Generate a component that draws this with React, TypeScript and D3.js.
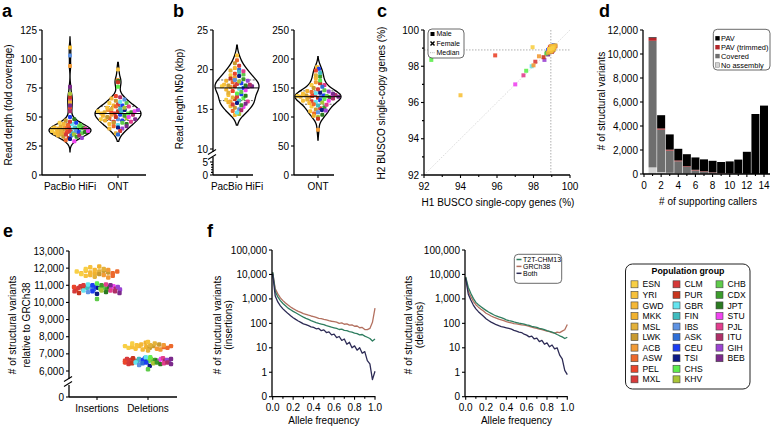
import React from "react";
import * as d3 from "d3";

const FONT = "'Liberation Sans', Arial, Helvetica, sans-serif";

// ---------- populations ----------
const POPULATIONS = ["ESN","YRI","GWD","MKK","MSL","LWK","ACB","ASW","PEL","MXL","CLM","PUR","GBR","FIN","IBS","ASK","CEU","TSI","CHS","KHV","CHB","CDX","JPT","STU","PJL","ITU","GIH","BEB"];
const POP_COLORS = ["#f8cf45","#f7c13b","#f5b836","#f1b22f","#e3b13a","#c89a30","#f29b36","#ec692c","#ea452b","#d83b3b","#d53939","#c8361f","#64e4ef","#40bcbf","#5f93e3","#2f6fd6","#1c3ef2","#0d1a85","#5eed4e","#a9c536","#5fcb4b","#3c9c2c","#2b7a21","#f044f0","#e23e8d","#ae2f67","#9b44d3","#7b2a8b"];
const SAMPLE_POP = ["ESN","ESN","ESN","YRI","YRI","YRI","YRI","GWD","GWD","GWD","MKK","MKK","MSL","MSL","MSL","LWK","LWK","LWK","ACB","ACB","ACB","ASW","ASW","ASW","PEL","PEL","MXL","MXL","CLM","CLM","PUR","PUR","PUR","GBR","GBR","FIN","FIN","IBS","IBS","ASK","CEU","CEU","CEU","TSI","TSI","CHS","CHS","KHV","KHV","CHB","CHB","CDX","CDX","JPT","JPT","STU","STU","PJL","PJL","ITU","ITU","GIH","GIH","BEB","BEB"];

// ---------- a: read depth ----------
const A_CATEGORIES = ["PacBio HiFi", "ONT"];
const READ_DEPTH_HIFI = [40,38,45,36,110,41,39,34,44,37,63,40,35,42,38,47,33,39,94,41,36,40,30,43,37,58,38,42,35,46,39,32,67,40,44,36,41,103,38,34,45,37,50,39,31,42,40,70,35,43,36,33,41,48,37,38,29,66,40,34,55,39,32,76,60];
const READ_DEPTH_ONT = [55,48,62,44,91,53,58,40,66,51,47,60,54,36,57,50,64,45,82,52,56,42,59,49,54,68,46,61,53,38,55,80,50,63,43,57,54,48,65,35,52,60,47,56,41,76,53,49,58,45,62,54,51,44,81,55,50,59,46,67,52,40,56,48,42];
const A_TICKS = [0,25,50,75,100,125];

// ---------- b: read length N50 ----------
const N50_HIFI = [17.9,16.2,19.3,15.4,21.8,18.1,16.8,20.2,14.3,17.5,18.6,15.9,19.9,17.1,16.5,20.8,18.0,15.2,19.0,17.8,16.0,21.2,18.4,14.8,17.3,19.5,16.6,18.2,15.6,20.5,17.9,16.3,18.9,14.6,17.6,19.7,16.1,18.7,15.0,20.0,17.7,16.9,18.3,15.8,19.2,17.0,16.4,18.5,14.4,19.4,17.2,15.5,18.8,16.7,18.0,15.3,17.4,19.8,16.0,18.1,14.9,17.8,18.6,15.7,17.9];
const N50_ONT = [136,118,155,128,186,140,110,167,135,124,145,102,172,138,130,150,113,137,78,160,134,122,143,106,180,136,127,148,115,139,133,97,158,126,141,176,120,135,108,152,137,129,183,112,142,131,163,125,100,146,136,117,170,134,104,139,128,155,121,138,132,144,111,135,140];
const B_HIFI_TICKS_UPPER = [10,15,20,25];
const B_HIFI_TICKS_LOWER = [0,5];
const B_HIFI_MINOR_LOWER = [1,2,3,4];
const B_ONT_TICKS = [0,50,100,150,200,250];

// ---------- c: BUSCO ----------
const BUSCO_H1 = [98.9,99.05,97.95,99.1,98.85,94.0,99.0,99.15,98.95,99.0,98.8,99.1,98.95,99.05,99.2,98.9,99.0,99.1,98.85,98.3,98.0,99.0,99.15,98.95,95.9,99.05,98.1,98.9,99.1,98.95,98.55,99.2,99.0,97.9,98.95,99.05,98.85,99.1,98.9,99.0,98.95,99.05,98.8,99.1,98.95,92.4,97.6,98.9,99.0,98.7,99.05,98.85,99.1,98.75,98.95,97.0,98.9,97.45,99.0,98.85,99.05,98.6,98.95,99.0,98.8];
const BUSCO_H2 = [98.95,99.0,99.05,99.1,98.9,96.4,98.85,99.05,99.1,98.95,98.75,98.95,98.8,99.1,99.15,98.85,99.05,98.9,98.95,98.55,98.05,99.1,99.1,99.0,98.6,98.95,98.25,99.05,99.0,98.9,98.5,99.1,98.8,98.0,99.0,98.9,98.8,99.05,99.0,98.9,98.85,99.0,98.9,99.15,98.95,98.35,97.75,98.8,99.05,98.7,98.9,98.85,99.0,98.75,99.05,97.0,98.95,97.5,98.95,98.9,98.85,98.35,99.1,98.8,98.65];
const C_TICKS = [92,94,96,98,100];
const C_MINOR = [93,95,97,99];
const C_LEGEND = ["Male","Female","Median"];

// ---------- d: supporting callers ----------
const CALLERS = [1,2,3,4,5,6,7,8,9,10,11,12,13,14];
const NO_ASSEMBLY = [550,150,100,60,40,30,20,15,10,5,5,0,0,0];
const COVERED = [10550,3550,1850,1000,560,270,170,90,50,30,15,5,0,0];
const PAV_TRIMMED = [250,100,80,70,50,50,40,30,25,15,10,5,0,0];
const PAV = [50,1100,1270,970,1000,1030,990,965,915,1000,1170,1840,5000,5700];
const D_Y_TICKS = [0,2000,4000,6000,8000,10000,12000];
const D_X_TICKS = [0,2,4,6,8,10,12,14];
const D_X_MINOR = [1,3,5,7,9,11,13];
const D_LEGEND = ["PAV","PAV (trimmed)","Covered","No assembly"];
const D_COLORS = ["#000000","#b3262a","#6e6e6e","#d4d4d4"];

// ---------- e: SVs vs GRCh38 ----------
const E_CATEGORIES = ["Insertions","Deletions"];
const SV_INSERTIONS = [11800,11650,11950,11700,12050,11550,11850,11750,11600,11900,12100,11700,11800,11500,11950,11650,11850,11750,11600,11450,11900,11700,11550,11800,10900,10750,10850,11000,10650,10950,10800,10550,10900,11050,10700,10850,10950,10600,10800,10750,10900,11000,10650,10850,10500,11100,10800,10950,10700,10850,10200,11000,10750,10900,10600,10850,10950,10700,11050,10800,10650,10900,10750,10550,11000];
const SV_DELETIONS = [7450,7350,7600,7400,7700,7300,7500,7450,7250,7550,7650,7400,7500,7200,7600,7350,7550,7450,7300,7250,7500,7400,7350,7450,6600,6500,6700,6550,6400,6650,6750,6450,6600,6800,6500,6550,6700,6350,6600,6450,6650,6750,6500,6550,6300,6800,6600,6700,6450,6550,6100,6650,6500,6600,6400,6550,6700,6450,6750,6600,6500,6650,6550,6400,6700];
const E_TICKS = [6000,7000,8000,9000,10000,11000,12000,13000];

// ---------- f: allele frequency ----------
const ALLELE_FREQ = [0,0.025,0.05,0.075,0.1,0.125,0.15,0.175,0.2,0.225,0.25,0.275,0.3,0.325,0.35,0.375,0.4,0.425,0.45,0.475,0.5,0.525,0.55,0.575,0.6,0.625,0.65,0.675,0.7,0.725,0.75,0.775,0.8,0.825,0.85,0.875,0.9,0.925,0.95,0.975,1.0];
const INS_GRCH38 = [12000,2600,1600,1100,850,680,560,470,400,350,310,280,250,235,215,200,190,175,160,155,145,138,128,122,117,112,100,104,92,95,84,86,76,78,66,68,56,55,62,110,420];
const INS_T2T = [12500,2000,1200,850,650,520,420,360,310,270,235,205,180,160,145,130,118,108,100,94,88,80,76,70,66,62,56,58,52,50,46,44,40,38,34,35,30,27,24,19,23];
const INS_BOTH = [10500,1300,750,520,390,310,250,205,170,145,125,110,95,88,80,72,68,60,62,50,54,42,45,34,36,26,29,20,23,14,17,10,12,8,10,6,7,3,2.2,0.5,1.1];
const DEL_T2T = [8000,3000,1700,1050,720,580,480,400,340,290,255,225,200,185,170,155,140,130,122,114,108,102,98,92,86,82,76,72,68,62,60,55,50,47,44,40,35,31,28,24,27];
const DEL_GRCH38 = [7800,2100,1250,800,580,460,380,320,260,230,200,180,165,150,140,130,118,110,104,98,95,90,86,84,80,76,70,66,62,58,56,52,48,46,42,40,44,42,48,55,90];
const DEL_BOTH = [7000,1600,900,560,390,300,240,195,155,130,112,100,88,80,74,70,66,62,58,52,48,44,42,36,33,28,30,23,25,18,20,14,16,11,13,9,10,5,3.5,1.2,0.8];
const F_Y_TICKS = [0.1,1,10,100,1000,10000,100000];
const F_Y_LABELS = ["0","1","10","100","1,000","10,000","100,000"];
const F_X_TICKS = [0,0.2,0.4,0.6,0.8,1.0];
const F_X_MINOR = [0.1,0.3,0.5,0.7,0.9];
const F_LEGEND = ["T2T-CHM13","GRCh38","Both"];
const F_COLORS = ["#2e7d5f","#b3705f","#2d2b55"];

// ---------- helpers ----------
const colorOf = (i: number) => POP_COLORS[POPULATIONS.indexOf(SAMPLE_POP[i])];
const fmtComma = d3.format(",");

function kde(values: number[], bw: number, lo: number, hi: number, n = 160): [number, number][] {
  const out: [number, number][] = [];
  for (let k = 0; k <= n; k++) {
    const y = lo + ((hi - lo) * k) / n;
    let s = 0;
    for (const v of values) s += Math.exp(-0.5 * ((y - v) / bw) ** 2);
    out.push([y, s / values.length]);
  }
  return out;
}

type Pt = { i: number; x: number; y: number };
function layoutRows(values: number[], yScale: (v: number) => number, cx: number, halfW: (v: number) => number, rowH: number, maxSp: number, inset: number): Pt[] {
  const rows = d3.group(d3.range(values.length), (i) => Math.round(yScale(values[i]) / rowH));
  const out: Pt[] = [];
  for (const [, idxs] of rows) {
    const n = idxs.length;
    const meanV = d3.mean(idxs, (i) => values[i]) as number;
    const hw = Math.max(0, halfW(meanV) - inset);
    const sp = n > 1 ? Math.min(maxSp, (2 * hw) / (n - 1)) : 0;
    idxs.forEach((i, k) => out.push({ i, x: cx + (k - (n - 1) / 2) * sp, y: yScale(values[i]) }));
  }
  return out;
}

function Violin({ values, yScale, cx, maxW, bw, pad }: any) {
  const lo = (d3.min(values) as number) - pad;
  const hi = (d3.max(values) as number) + pad;
  const dens = kde(values, bw, lo, hi);
  const maxD = d3.max(dens, (d) => d[1]) as number;
  const wS = d3.scaleLinear().domain([0, maxD]).range([0, maxW]);
  const halfW = (v: number) => {
    const t = ((v - lo) / (hi - lo)) * (dens.length - 1);
    const k = Math.max(0, Math.min(dens.length - 1, Math.round(t)));
    return wS(dens[k][1]);
  };
  const area = d3.area<[number, number]>().x0((d) => cx - wS(d[1])).x1((d) => cx + wS(d[1])).y((d) => yScale(d[0])).curve(d3.curveBasis);
  const pts = layoutRows(values, yScale, cx, halfW, 4, 4.3, 2.5);
  const sorted = [...values].sort(d3.ascending);
  const med = d3.quantile(sorted, 0.5) as number;
  const q1 = d3.quantile(sorted, 0.25) as number;
  const q3 = d3.quantile(sorted, 0.75) as number;
  return (
    <g>
      <path d={area(dens) || ""} fill="#fff" stroke="#000" strokeWidth={1.3} />
      {[q1, q3].map((q, k) => (
        <line key={k} x1={cx - halfW(q)} x2={cx + halfW(q)} y1={yScale(q)} y2={yScale(q)} stroke="#000" strokeWidth={0.6} strokeDasharray="2,1.5" />
      ))}
      {pts.map((p) => (
        <rect key={p.i} x={p.x - 2} y={p.y - 2} width={4} height={4} rx={1.2} fill={colorOf(p.i)} />
      ))}
      <line x1={cx - halfW(med)} x2={cx + halfW(med)} y1={yScale(med)} y2={yScale(med)} stroke="#000" strokeWidth={1} />
    </g>
  );
}

function YTicks({ x, scale, values, labels, len = 3, fs = 10 }: any) {
  return (
    <g>
      {values.map((v: number, k: number) => (
        <g key={k}>
          <line x1={x - len} x2={x} y1={scale(v)} y2={scale(v)} stroke="#000" strokeWidth={1.1} />
          {labels && (
            <text x={x - len - 2} y={scale(v)} dy="0.35em" textAnchor="end" fontSize={fs}>{labels[k]}</text>
          )}
        </g>
      ))}
    </g>
  );
}

function XTicks({ y, scale, values, labels, len = 3, fs = 10, dyLab = 15 }: any) {
  return (
    <g>
      {values.map((v: number, k: number) => (
        <g key={k}>
          <line x1={scale(v)} x2={scale(v)} y1={y} y2={y + len} stroke="#000" strokeWidth={1.1} />
          {labels && (
            <text x={scale(v)} y={y + dyLab} textAnchor="middle" fontSize={fs}>{labels[k]}</text>
          )}
        </g>
      ))}
    </g>
  );
}

function VTitle({ x, y, text, fs = 10 }: any) {
  return (
    <text transform={`translate(${x},${y}) rotate(-90)`} textAnchor="middle" dominantBaseline="central" fontSize={fs}>{text}</text>
  );
}

function BreakMark({ x, y }: any) {
  return (
    <g stroke="#000" strokeWidth={1.1}>
      <line x1={x - 5} y1={y + 2.5} x2={x + 3} y2={y - 2.5} />
      <line x1={x - 5} y1={y + 7.5} x2={x + 3} y2={y + 2.5} />
    </g>
  );
}

export default function App() {
  // ----- a -----
  const aY = d3.scaleLinear().domain([0, 125]).range([175, 30]);
  const aX = d3.scalePoint().domain(A_CATEGORIES).range([70, 118]);

  // ----- b -----
  const bUp = d3.scaleLinear().domain([10, 25]).range([149, 30]);
  const bLo = d3.scaleLinear().domain([0, 5]).range([175, 162]);
  const bOnt = d3.scaleLinear().domain([0, 250]).range([175, 30]);

  // ----- c -----
  const cX = d3.scaleLinear().domain([92, 100]).range([424, 570]);
  const cY = d3.scaleLinear().domain([92, 100]).range([175, 30]);
  const medH1 = d3.median(BUSCO_H1) as number;
  const medH2 = d3.median(BUSCO_H2) as number;

  // ----- d -----
  const dX = d3.scaleLinear().domain([0, 14]).range([644, 764]);
  const dY = d3.scaleLinear().domain([0, 12000]).range([174, 30]);
  const dFill = [D_COLORS[3], D_COLORS[2], D_COLORS[1], D_COLORS[0]];
  const stackData = CALLERS.map((c, k) => ({ c, s0: NO_ASSEMBLY[k], s1: COVERED[k], s2: PAV_TRIMMED[k], s3: PAV[k] }));
  const stacked = d3.stack<any>().keys(["s0", "s1", "s2", "s3"])(stackData);

  // ----- e -----
  const eY = d3.scaleLinear().domain([6000, 13000]).range([371, 251]);
  const eX = d3.scalePoint().domain(E_CATEGORIES).range([97, 148]);
  const insPts = layoutRows(SV_INSERTIONS, eY, eX("Insertions") as number, () => 23, 4, 4.5, 0);
  const delPts = layoutRows(SV_DELETIONS, eY, eX("Deletions") as number, () => 23, 4, 4.5, 0);

  // ----- f -----
  const fY = d3.scaleLog().domain([0.1, 100000]).range([396.7, 250]);
  const fXL = d3.scaleLinear().domain([0, 1]).range([272.7, 375]);
  const fXR = d3.scaleLinear().domain([0, 1]).range([465.7, 567.3]);
  const lineOf = (xs: any, ys: number[]) =>
    d3.line<number>().x((_, k) => xs(ALLELE_FREQ[k])).y((v) => fY(Math.max(v, 0.1)))(ys) || "";
  const insSeries = [INS_T2T, INS_GRCH38, INS_BOTH];
  const delSeries = [DEL_T2T, DEL_GRCH38, DEL_BOTH];
  const afFmt = d3.format(".1f");

  return (
    <svg width={775} height={428} style={{ position: "absolute", left: 0, top: 0, background: "#fff" }} fontFamily={FONT}>
      <rect width={775} height={428} fill="#fff" />

      {/* ================= a ================= */}
      <text x={2} y={17} fontSize={18} fontWeight="bold">a</text>
      <Violin values={READ_DEPTH_HIFI} yScale={aY} cx={aX("PacBio HiFi")} maxW={21} bw={3.6} pad={9} />
      <Violin values={READ_DEPTH_ONT} yScale={aY} cx={aX("ONT")} maxW={23} bw={4.2} pad={6} />
      <line x1={42} x2={42} y1={30} y2={175} stroke="#000" strokeWidth={1.3} />
      <line x1={42} x2={146} y1={175} y2={175} stroke="#000" strokeWidth={1.3} />
      <YTicks x={42} scale={aY} values={A_TICKS} labels={A_TICKS.map(String)} />
      <XTicks y={175} scale={aX} values={A_CATEGORIES} labels={A_CATEGORIES} />
      <VTitle x={8.5} y={105} text="Read depth (fold coverage)" />

      {/* ================= b ================= */}
      <text x={173} y={17} fontSize={18} fontWeight="bold">b</text>
      <Violin values={N50_HIFI} yScale={bUp} cx={237} maxW={22} bw={0.75} pad={1.3} />
      <line x1={213} x2={213} y1={30} y2={152} stroke="#000" strokeWidth={1.3} />
      <line x1={213} x2={213} y1={157} y2={175} stroke="#000" strokeWidth={1.3} />
      <BreakMark x={213} y={152} />
      <line x1={213} x2={253} y1={175} y2={175} stroke="#000" strokeWidth={1.3} />
      <YTicks x={213} scale={bUp} values={B_HIFI_TICKS_UPPER} labels={B_HIFI_TICKS_UPPER.map(String)} />
      <YTicks x={213} scale={bLo} values={B_HIFI_TICKS_LOWER} labels={B_HIFI_TICKS_LOWER.map(String)} />
      <YTicks x={213} scale={bLo} values={B_HIFI_MINOR_LOWER} len={2} />
      <XTicks y={175} scale={() => 237} values={[0]} labels={[A_CATEGORIES[0]]} />
      <VTitle x={179} y={99} text="Read length N50 (kbp)" />

      <Violin values={N50_ONT} yScale={bOnt} cx={318} maxW={23} bw={9} pad={18} />
      <line x1={294} x2={294} y1={30} y2={175} stroke="#000" strokeWidth={1.3} />
      <line x1={294} x2={334} y1={175} y2={175} stroke="#000" strokeWidth={1.3} />
      <YTicks x={294} scale={bOnt} values={B_ONT_TICKS} labels={B_ONT_TICKS.map(String)} />
      <XTicks y={175} scale={() => 318} values={[0]} labels={[A_CATEGORIES[1]]} />

      {/* ================= c ================= */}
      <text x={377} y={17} fontSize={18} fontWeight="bold">c</text>
      <line x1={cX(92)} y1={cY(92)} x2={cX(100)} y2={cY(100)} stroke="#d0d0d0" strokeWidth={0.8} strokeDasharray="1.5,1.5" />
      <line x1={cX(medH1)} x2={cX(medH1)} y1={30} y2={175} stroke="#9a9a9a" strokeWidth={0.8} strokeDasharray="1.5,1.5" />
      <line x1={424} x2={570} y1={cY(medH2)} y2={cY(medH2)} stroke="#9a9a9a" strokeWidth={0.8} strokeDasharray="1.5,1.5" />
      {d3.range(BUSCO_H1.length).reverse().map((i) => (
        <rect key={i} x={cX(BUSCO_H1[i]) - 2} y={cY(BUSCO_H2[i]) - 2} width={4} height={4} fill={colorOf(i)} opacity={0.9} />
      ))}
      <line x1={424} x2={424} y1={30} y2={175} stroke="#000" strokeWidth={1.3} />
      <line x1={424} x2={570} y1={175} y2={175} stroke="#000" strokeWidth={1.3} />
      <YTicks x={424} scale={cY} values={C_TICKS} labels={C_TICKS.map(String)} />
      <YTicks x={424} scale={cY} values={C_MINOR} len={2} />
      <XTicks y={175} scale={cX} values={C_TICKS} labels={C_TICKS.map(String)} />
      <XTicks y={175} scale={cX} values={C_MINOR} len={2} />
      <text x={498} y={206} textAnchor="middle" fontSize={10}>H1 BUSCO single-copy genes (%)</text>
      <VTitle x={381} y={103} text="H2 BUSCO single-copy genes (%)" />
      <g fontSize={7}>
        <rect x={428} y={29} width={36} height={29} rx={4} fill="#fff" stroke="#444" strokeWidth={0.8} />
        <rect x={430.5} y={32} width={4} height={4} fill="#000" />
        <text x={436.5} y={34} dy="0.35em">{C_LEGEND[0]}</text>
        <g stroke="#000" strokeWidth={1.4}>
          <line x1={430.5} y1={41.5} x2={434.5} y2={45.5} />
          <line x1={430.5} y1={45.5} x2={434.5} y2={41.5} />
        </g>
        <text x={436.5} y={43.5} dy="0.35em">{C_LEGEND[1]}</text>
        <line x1={430} x2={435} y1={52.7} y2={52.7} stroke="#aaa" strokeWidth={0.8} strokeDasharray="1.2,1" />
        <text x={436.5} y={52.7} dy="0.35em">{C_LEGEND[2]}</text>
      </g>

      {/* ================= d ================= */}
      <text x={599} y={17} fontSize={18} fontWeight="bold">d</text>
      {stacked.map((layer, li) => (
        <g key={li} fill={dFill[li]}>
          {layer.map((seg: any, k: number) => {
            const h = dY(seg[0]) - dY(seg[1]);
            return h > 0 ? <rect key={k} x={dX(CALLERS[k]) - 4} y={dY(seg[1])} width={8} height={h} /> : null;
          })}
        </g>
      ))}
      <line x1={643} x2={643} y1={30} y2={174} stroke="#000" strokeWidth={1.3} />
      <line x1={643} x2={770} y1={174} y2={174} stroke="#000" strokeWidth={1.3} />
      <YTicks x={643} scale={dY} values={D_Y_TICKS} labels={D_Y_TICKS.map(fmtComma)} />
      <XTicks y={174} scale={dX} values={D_X_TICKS} labels={D_X_TICKS.map(String)} dyLab={14.5} />
      <XTicks y={174} scale={dX} values={D_X_MINOR} len={2} />
      <text x={708} y={205} textAnchor="middle" fontSize={10}># of supporting callers</text>
      <VTitle x={601} y={101} text="# of structural variants" />
      <g fontSize={7.4}>
        <rect x={713.3} y={29.3} width={56.7} height={40.7} rx={4} fill="#fff" stroke="#444" strokeWidth={0.8} />
        {D_LEGEND.map((t, k) => (
          <g key={k}>
            <rect x={715.3} y={38.3 + k * 8.9 - 2.2} width={4.4} height={4.4} fill={D_COLORS[k]} stroke={k === 3 ? "#777" : "none"} strokeWidth={0.5} />
            <text x={721} y={38.3 + k * 8.9} dy="0.35em">{t}</text>
          </g>
        ))}
      </g>

      {/* ================= e ================= */}
      <text x={3} y={237} fontSize={18} fontWeight="bold">e</text>
      {insPts.map((p) => (
        <rect key={"i" + p.i} x={p.x - 2.2} y={p.y - 2.2} width={4.4} height={4.4} rx={1.3} fill={colorOf(p.i)} />
      ))}
      {delPts.map((p) => (
        <rect key={"d" + p.i} x={p.x - 2.2} y={p.y - 2.2} width={4.4} height={4.4} rx={1.3} fill={colorOf(p.i)} />
      ))}
      <line x1={69} x2={69} y1={251} y2={379} stroke="#000" strokeWidth={1.3} />
      <line x1={69} x2={69} y1={385} y2={397} stroke="#000" strokeWidth={1.3} />
      <BreakMark x={69} y={379} />
      <line x1={69} x2={177} y1={397} y2={397} stroke="#000" strokeWidth={1.3} />
      <YTicks x={69} scale={eY} values={E_TICKS} labels={E_TICKS.map(fmtComma)} />
      <YTicks x={69} scale={() => 397} values={[0]} labels={["0"]} />
      <XTicks y={397} scale={eX} values={E_CATEGORIES} labels={E_CATEGORIES} dyLab={14.5} />
      <VTitle x={12} y={325} text="# of structural variants" />
      <VTitle x={26} y={325} text="relative to GRCh38" />

      {/* ================= f ================= */}
      <text x={207} y={237} fontSize={18} fontWeight="bold">f</text>
      {[{ xs: fXL, series: insSeries, x0: 272, title2: "(insertions)", tx: 217 }, { xs: fXR, series: delSeries, x0: 465, title2: "(deletions)", tx: 408 }].map((P, pi) => (
        <g key={pi}>
          {[1, 0, 2].map((si) => (
            <path key={si} d={lineOf(P.xs, P.series[si])} fill="none" stroke={F_COLORS[si]} strokeWidth={1.3} strokeLinejoin="round" />
          ))}
          <line x1={P.x0} x2={P.x0} y1={250} y2={396.7} stroke="#000" strokeWidth={1.3} />
          <line x1={P.x0} x2={P.xs(1) + 0.5} y1={396.7} y2={396.7} stroke="#000" strokeWidth={1.3} />
          <YTicks x={P.x0} scale={fY} values={F_Y_TICKS} labels={F_Y_LABELS} />
          <XTicks y={396.7} scale={P.xs} values={F_X_TICKS} labels={F_X_TICKS.map(afFmt)} dyLab={14.5} />
          <XTicks y={396.7} scale={P.xs} values={F_X_MINOR} len={2} />
          <text x={(P.xs(0) + P.xs(1)) / 2} y={424} textAnchor="middle" fontSize={10}>Allele frequency</text>
          <VTitle x={P.tx} y={325} text="# of structural variants" />
          <VTitle x={P.tx + 11} y={325} text={P.title2} />
        </g>
      ))}
      <g fontSize={7}>
        <rect x={514.3} y={254.3} width={47.4} height={29} rx={4} fill="#fff" stroke="#444" strokeWidth={0.8} />
        {F_LEGEND.map((t, k) => (
          <g key={k}>
            <line x1={516.5} x2={521.5} y1={259.5 + k * 6.9} y2={259.5 + k * 6.9} stroke={F_COLORS[k]} strokeWidth={1.5} />
            <text x={523} y={259.5 + k * 6.9} dy="0.35em">{t}</text>
          </g>
        ))}
      </g>

      {/* ================= population legend ================= */}
      <g fontSize={8.6}>
        <rect x={625.5} y={264} width={124.5} height={125} rx={7} fill="#fff" stroke="#222" strokeWidth={1} />
        <text x={688} y={273.5} textAnchor="middle" fontWeight="bold" fontSize={8.8}>Population group</text>
        {POPULATIONS.map((p, k) => {
          const col = Math.floor(k / 10);
          const row = k % 10;
          const sx = [631, 673, 716][col];
          const cy = 284.3 + row * 10.56;
          return (
            <g key={p}>
              <rect x={sx} y={cy - 3.5} width={7} height={7} fill={POP_COLORS[k]} stroke="#444" strokeWidth={0.6} />
              <text x={sx + 11.5} y={cy} dy="0.36em">{p}</text>
            </g>
          );
        })}
      </g>
    </svg>
  );
}
